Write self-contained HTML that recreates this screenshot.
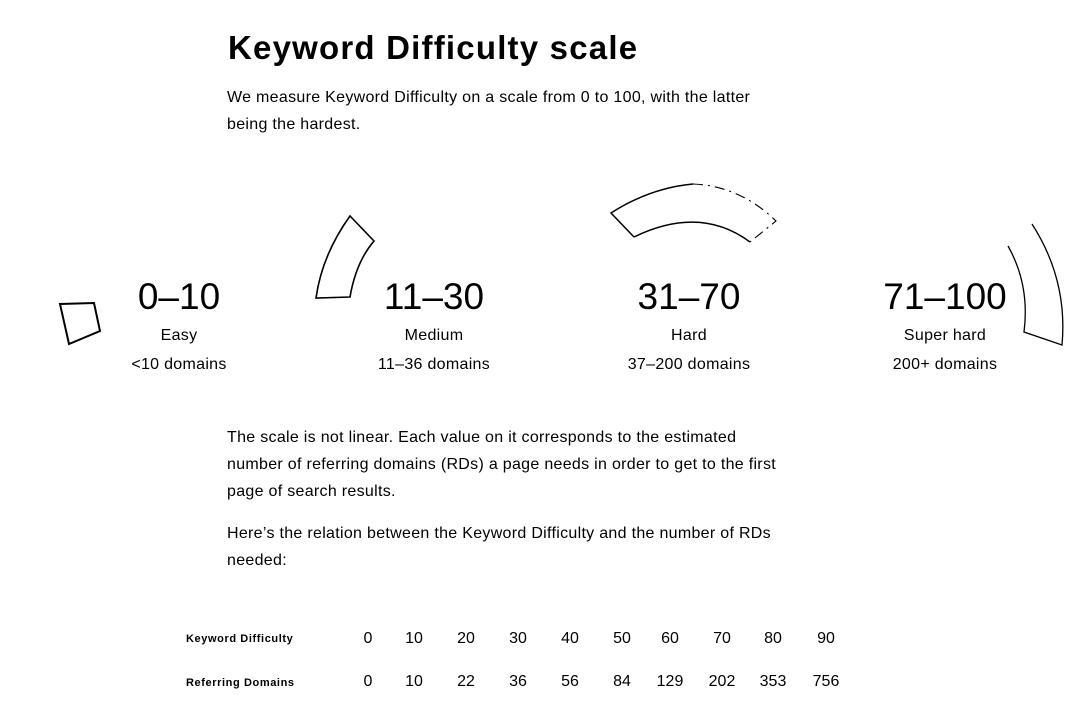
<!DOCTYPE html>
<html><head><meta charset="utf-8"><style>
body{margin:0;width:1080px;height:714px;background:#fff;color:#000;font-family:"Liberation Sans",sans-serif;position:relative;overflow:hidden}
.a{position:absolute}
h1{position:absolute;left:228px;top:29px;margin:0;font-size:33px;font-weight:bold;letter-spacing:1.2px}
p{position:absolute;left:227px;margin:0;font-size:16px;line-height:27px;width:620px;letter-spacing:0.3px}
.lvl{position:absolute;width:200px;text-align:center}
.lvl .n{font-size:37px;line-height:40px;margin-top:0}
.lvl .t{font-size:16px;margin-top:10px;letter-spacing:0.3px}
.lvl .d{font-size:16px;margin-top:11px;letter-spacing:0.3px}
.lab{position:absolute;left:186px;font-size:11px;font-weight:bold;letter-spacing:0.6px}
.c{position:absolute;width:40px;text-align:center;font-size:16px}
</style></head><body>
<h1>Keyword Difficulty scale</h1>
<p style="top:84px">We measure Keyword Difficulty on a scale from 0 to 100, with the latter<br>being the hardest.</p>
<svg class="a" style="left:0;top:0" width="1080" height="400">
<path d="M60,304 L94,303 L100,331 L69,344 Z" fill="none" stroke="#000" stroke-width="2"/>
<path d="M350,216 Q322,255 316,298 L350,297 Q356,262 374,241 Z" fill="none" stroke="#000" stroke-width="1.6"/>
<path d="M634,237 L611,213 Q650,188 693,184 M750,242 Q700,205 634,237" fill="none" stroke="#000" stroke-width="1.5"/>
<path d="M693,184 Q740,186 776,221 L750,242" fill="none" stroke="#000" stroke-width="1.1" stroke-dasharray="10 5 2 5"/>
<path d="M1032,224 Q1068,280 1062,345 L1024,332 Q1030,285 1008,246" fill="none" stroke="#000" stroke-width="1.3"/>
</svg>
<div class="lvl" style="left:79px;top:277px"><div class="n">0–10</div><div class="t">Easy</div><div class="d">&lt;10 domains</div></div>
<div class="lvl" style="left:334px;top:277px"><div class="n">11–30</div><div class="t">Medium</div><div class="d">11–36 domains</div></div>
<div class="lvl" style="left:589px;top:277px"><div class="n">31–70</div><div class="t">Hard</div><div class="d">37–200 domains</div></div>
<div class="lvl" style="left:845px;top:277px"><div class="n">71–100</div><div class="t">Super hard</div><div class="d">200+ domains</div></div>
<p style="top:424px">The scale is not linear. Each value on it corresponds to the estimated<br>number of referring domains (RDs) a page needs in order to get to the first<br>page of search results.</p>
<p style="top:520px">Here’s the relation between the Keyword Difficulty and the number of RDs<br>needed:</p>
<div class="lab" style="top:633px">Keyword Difficulty</div>
<div class="lab" style="top:677px">Referring Domains</div>
<div id="tbl"></div>
<script>
const kd=[0,10,20,30,40,50,60,70,80,90];
const rd=[0,10,22,36,56,84,129,202,353,756];
const xs=[368,414,466,518,570,622,670,722,773,826];
const t=document.getElementById('tbl');
function row(vals,top,name){vals.forEach((v,i)=>{const d=document.createElement('div');d.className='c';d.style.left=(xs[i]-20)+'px';d.style.top=top+'px';d.textContent=v;


t.appendChild(d);});}
row(kd,630,'kd-value');row(rd,673,'rd-value');
</script>
</body></html>
